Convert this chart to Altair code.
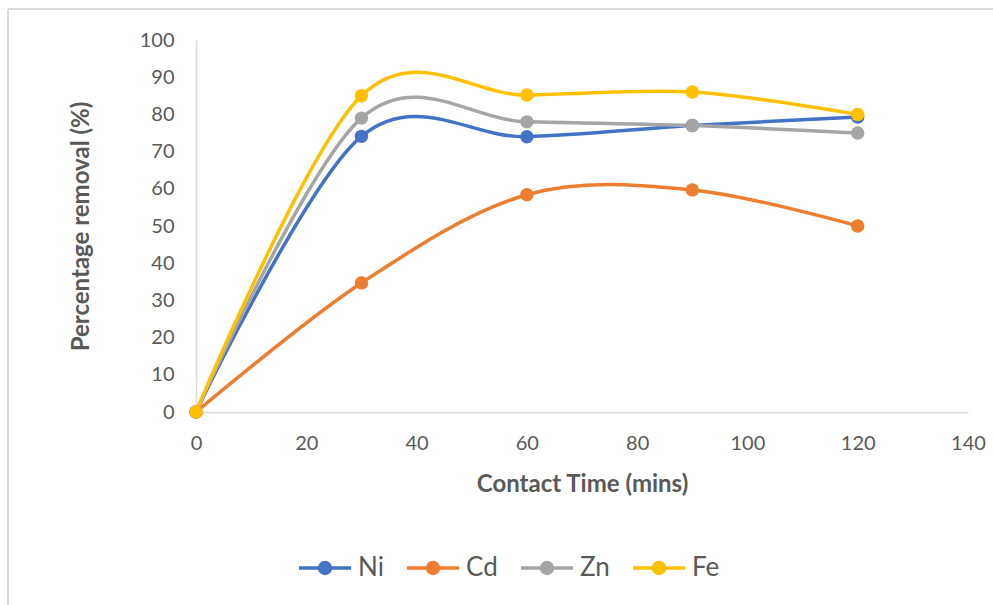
import altair as alt
import pandas as pd

times = [0, 30, 60, 90, 120]
metals = ["Ni", "Cd", "Zn", "Fe"]
ni = [0, 74.1, 74.0, 77.0, 79.3]
cd = [0, 34.7, 58.4, 59.7, 50.0]
zn = [0, 79.0, 78.0, 77.0, 75.0]
fe = [0, 85.0, 85.2, 86.0, 80.0]
colors = ["#4472C4", "#ED7D31", "#A5A5A5", "#FFC000"]

rows = []
for name, vals in zip(metals, [ni, cd, zn, fe]):
    for t, v in zip(times, vals):
        rows.append({"time": t, "removal": v, "metal": name})
df = pd.DataFrame(rows)

FONT = "Lato"
TXT = "#595959"

legend_path = ("M-1,0H1 "
               "M-0.21,0a0.21,0.21 0 1,0 0.42,0a0.21,0.21 0 1,0 -0.42,0 "
               "M-0.11,0a0.11,0.11 0 1,0 0.22,0a0.11,0.11 0 1,0 -0.22,0 "
               "M-0.03,0a0.03,0.03 0 1,0 0.06,0a0.03,0.03 0 1,0 -0.06,0")

x = alt.X("time:Q", scale=alt.Scale(domain=[0, 140], nice=False),
          axis=alt.Axis(values=list(range(0, 141, 20)), title="Contact Time (mins)",
                        grid=False, ticks=False, domainColor="#d9d9d9", domainWidth=1.5,
                        labelFlush=False,
                        labelPadding=21, labelFontSize=20, labelColor=TXT, labelFont=FONT,
                        titleFontSize=24, titleFont=FONT, titleColor=TXT, titleFontWeight="bold",
                        titlePadding=19))
y = alt.Y("removal:Q", scale=alt.Scale(domain=[0, 100], nice=False),
          axis=alt.Axis(values=list(range(0, 101, 10)), title="Percentage removal (%)",
                        grid=False, ticks=False, domainColor="#d9d9d9", domainWidth=1.5,
                        labelFlush=False,
                        labelPadding=22, labelFontSize=20, labelColor=TXT, labelFont=FONT,
                        titleFontSize=24, titleFont=FONT, titleColor=TXT, titleFontWeight="bold",
                        titlePadding=46))
color = alt.Color("metal:N", sort=metals,
                  scale=alt.Scale(domain=metals, range=colors),
                  legend=alt.Legend(title=None, orient="none", direction="horizontal",
                                    columns=4, legendX=101, legendY=500,
                                    symbolType=legend_path, symbolSize=2704,
                                    symbolStrokeWidth=3.5, labelFontSize=26,
                                    labelFont=FONT, labelColor=TXT, labelOffset=5,
                                    columnPadding=16))

lines = alt.Chart(df).mark_line(interpolate="cardinal", tension=0, strokeWidth=3.5).encode(
    x=x, y=y, color=color, order=alt.Order("time:Q"))
points = alt.Chart(df).mark_point(filled=True, size=180, opacity=1).encode(
    x=x, y=y, color=alt.Color("metal:N", sort=metals,
                              scale=alt.Scale(domain=metals, range=colors), legend=None))

border = alt.Chart(alt.Data(values=[{}]))
left_b = border.mark_rule(color="#d9d9d9", strokeWidth=2).encode(
    x=alt.value(-188), y=alt.value(-31), y2=alt.value(570))
top_b = border.mark_rule(color="#d9d9d9", strokeWidth=2).encode(
    x=alt.value(-188), x2=alt.value(800), y=alt.value(-31))

chart = alt.layer(left_b, top_b, lines, points).properties(
    width=772, height=372,
    autosize=alt.AutoSizeParams(type="none"),
    padding={"left": 196, "top": 40, "right": 25, "bottom": 193},
).configure(background="white").configure_view(stroke=None)

chart.save("out.html", embed_options={"renderer": "svg", "actions": False})
